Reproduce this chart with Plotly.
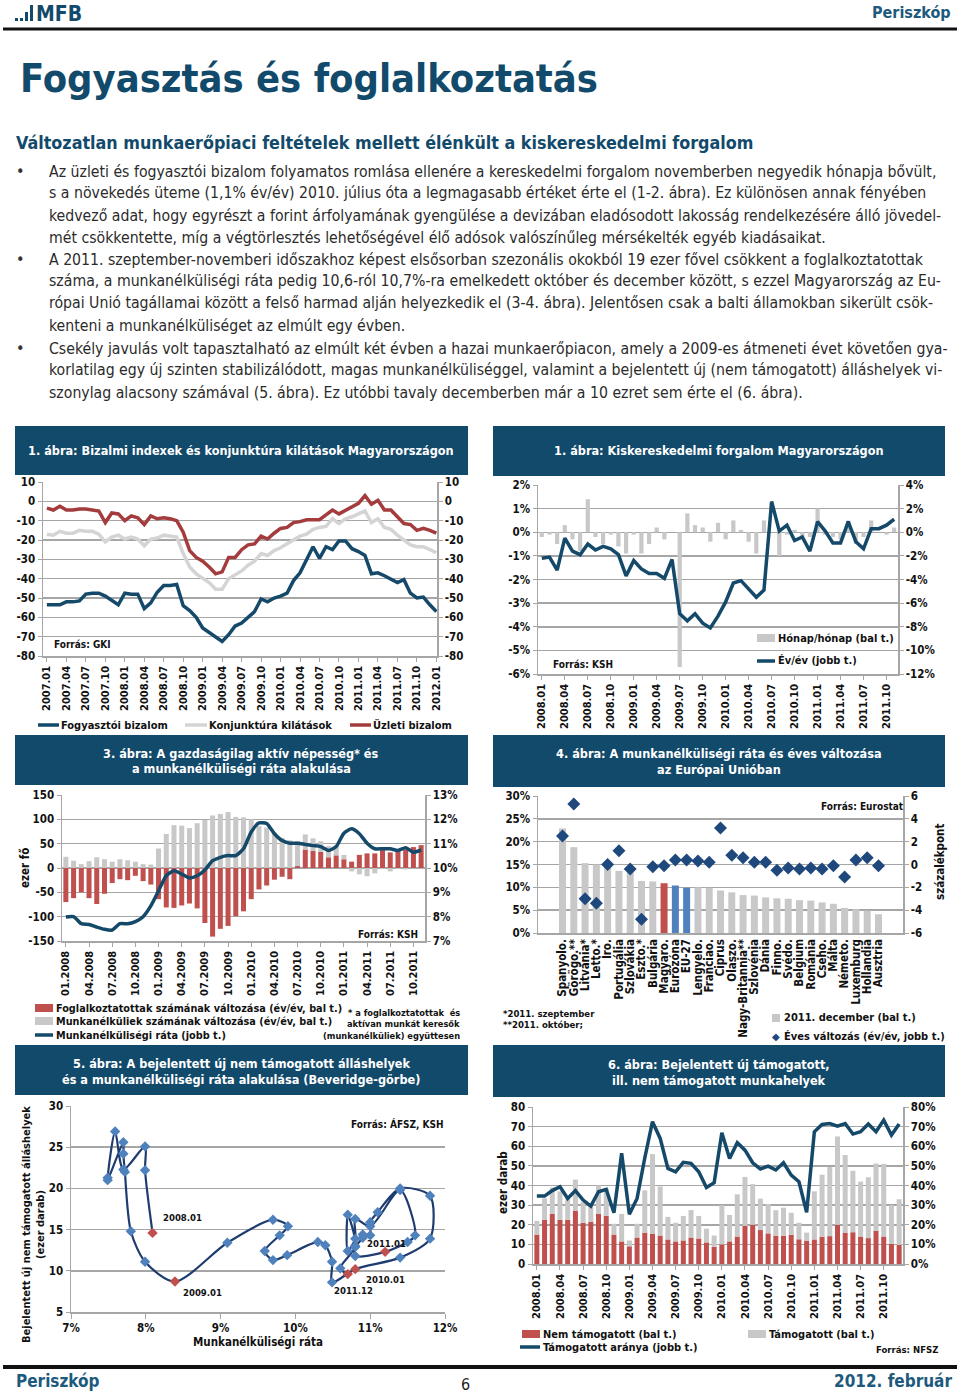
import plotly.graph_objects as go

W, H = 960, 1394
def px(x): return x / W
def py(y): return 1 - y / H

FONT = "DejaVu Sans Condensed, Noto Sans, DejaVu Sans"
BODYFONT = "DejaVu Sans Condensed, Noto Sans, DejaVu Sans"
NAVY = "#124a6b"
LINEBLUE = "#15496a"
REDLINE = "#a43b3c"
REDBAR = "#c0504d"
GRAYBAR = "#c8c8c8"
GRAYLINE = "#d4d4d4"
GRID = "#a6a6a6"
TXT = "#111111"
EUBLUE = "#4f81bd"
DIAMOND = "#1f497d"

# ---------------- DATA ----------------
# Chart 1: confidence indices, 2007.01 - 2012.01
months1 = [f"{y}.{m:02d}" for y in range(2007, 2013) for m in range(1, 13)][:61]
fogyasztoi = [-53.5, -53.5, -53.5, -52, -52, -51.5, -48, -47.5, -47.5, -49, -51, -53.5,
              -47.5, -48, -48, -55.5, -52.5, -47, -43.5, -43.5, -43, -54, -56.5, -60,
              -65.5, -68, -70, -72.5, -69, -64.5, -63, -60, -57, -50.5, -52, -50,
              -49, -47.5, -41, -37, -30, -23.5, -29.5, -23.5, -25, -20.5, -20.5, -24.5,
              -26, -28, -37.5, -37, -38.5, -40.5, -42, -40.5, -47.5, -50, -49.5, -53.5, -57]
konjunktura = [-17, -17.5, -15.5, -16.5, -16.5, -15, -15.5, -15.5, -17, -21, -18.5, -17.5,
               -19.5, -18.5, -19.5, -23, -19.5, -19, -17.5, -18, -18.5, -27, -34, -37.5,
               -40, -42, -45.5, -45.5, -40, -38, -36, -33, -31, -27, -28, -25.5,
               -24, -22, -20, -18, -17, -14.5, -13.5, -13, -9, -11.5, -9, -8,
               -6.5, -5, -11, -9, -13.5, -14.5, -17.5, -20, -22.5, -23.5, -23.5, -25, -26.5]
uzleti = [-3.5, -4.5, -2.5, -4.5, -4.5, -4, -4, -4.5, -5, -11, -6, -6.5,
          -10, -7.5, -8.5, -12, -7.5, -9, -8.5, -9, -10, -16, -25.5, -29,
          -31, -34, -37.5, -36.5, -29, -29, -25, -22.5, -22, -18, -19.5, -16.5,
          -14, -13.5, -11, -10.5, -9.5, -9.5, -9.5, -7, -4.5, -6.5, -4.5, -3,
          -1, 3, -1.5, 0.5, -4.5, -4.5, -8, -11.5, -12, -15, -14, -15, -16.5]

# Chart 2: retail sales, 2008.01 - 2011.11
months2 = [f"{y}.{m:02d}" for y in range(2008, 2012) for m in range(1, 13)][:47]
honap_honap = [-0.2, -0.1, -0.5, 0.3, -0.3, -0.8, 1.4, -0.2, -0.5, -0.1, -0.6, -0.9,
               -0.1, -0.9, -0.5, 0.2, -0.3, 0.0, -5.7, 0.8, 0.3, 0.2, -0.4, 0.4,
               -0.3, 0.5, 0.1, -0.4, -0.9, 0.5, 0.0, -1.0, -0.1, 0.1, -0.2, -0.2,
               1.0, -0.1, -0.2, -0.3, 0.5, -0.5, -0.2, 0.5, 0.0, -0.1, 0.2]
ev_ev = [-2.2, -2.1, -3.2, -0.5, -1.6, -1.9, -1.0, -1.5, -1.2, -1.4, -1.9, -3.7,
         -2.4, -3.1, -3.5, -3.5, -3.9, -2.3, -6.9, -7.5, -6.9, -7.7, -8.1, -7.1,
         -5.9, -4.3, -4.1, -4.8, -5.5, -4.9, 2.6, 0.1, 0.6, -0.7, -0.4, -1.6,
         0.9, 0.1, -0.9, -0.9, 0.9, -0.8, -1.4, 0.3, 0.3, 0.6, 1.1]

# Chart 3: active population, 2008.01 - 2011.11
months3 = [f"{m:02d}.{y}" for y in range(2008, 2012) for m in range(1, 13)][:47]
foglalkoztatott_valt = [-70, -62, -50, -62, -74, -53, -31, -23, -25, -16, -27, -34,
                        -64, -81, -82, -77, -73, -83, -113, -141, -125, -119, -99, -89,
                        -64, -44, -36, -24, -18, -23, 4, 38, 35, 33, 22, 26,
                        18, 13, 27, 30, 30, 37, 32, 36, 38, 43, 47]
munkanelkuli_valt = [23, 15, 8, 14, 22, 18, 13, 18, 16, 13, 8, 7,
                     40, 70, 88, 87, 82, 92, 99, 108, 111, 115, 105, 104,
                     100, 86, 83, 73, 62, 57, 51, 31, 26, 22, 23, 19,
                     9, -7, -13, -17, -11, -2, -7, -2, -3, -1, -1]
munkanelkulisegi_rata = [7.99, 8.0, 7.71, 7.68, 7.57, 7.48, 7.45, 7.71, 7.71, 7.8, 8.0, 8.44,
                         9.06, 9.68, 9.89, 9.75, 9.59, 9.68, 9.92, 10.3, 10.44, 10.51, 10.51, 10.79,
                         11.48, 11.85, 11.83, 11.41, 11.13, 11.02, 11.02, 10.97, 10.92, 10.88, 10.72, 10.88,
                         11.43, 11.61, 11.41, 11.02, 10.79, 10.79, 10.79, 10.72, 10.83, 10.65, 10.74]

# Chart 4: EU unemployment
orszagok = ["Spanyolo.", "Görögo.**", "Litvánia*", "Letto.*", "Íro.", "Portugália", "Szlovákia",
            "Észto.*", "Bulgária", "Magyaro.", "Eurózóna", "EU-27", "Lengyelo.", "Franciao.",
            "Ciprus", "Olaszo.", "Nagy-Britannia**", "Szlovénia", "Dánia", "Finno.", "Svédo.",
            "Belgium", "Románia", "Cseho.", "Málta", "Németo.", "Luxemburg", "Hollandia", "Ausztria"]
rata_2011dec = [22.9, 18.8, 15.3, 15.0, 14.5, 13.6, 13.3, 11.4, 11.3, 10.9, 10.4, 9.9, 10.0, 9.9,
                9.3, 8.9, 8.3, 8.2, 7.8, 7.6, 7.5, 7.2, 7.1, 6.7, 6.4, 5.5, 5.2, 4.9, 4.1]
eves_valtozas = [2.5, 5.3, -3.0, -3.4, 0.0, 1.2, -0.4, -4.8, -0.2, -0.1, 0.4, 0.4, 0.3, 0.2,
                 3.2, 0.8, 0.6, 0.2, 0.2, -0.5, -0.3, -0.4, -0.3, -0.4, -0.1, -1.1, 0.4, 0.6, -0.1]

# Chart 5: Beveridge curve, 2008.01 - 2011.12
beve_honap = [f"{y}.{m:02d}" for y in range(2008, 2012) for m in range(1, 13)]
beve_rata = [8.09, 7.99, 7.99, 7.70, 7.59, 7.49, 7.49, 7.70, 7.70, 7.72, 7.80, 7.99,
             8.39, 9.09, 9.70, 9.90, 9.79, 9.59, 9.70, 9.89, 10.30, 10.40, 10.49, 10.49,
             10.80, 11.40, 11.80, 11.80, 11.40, 11.10, 11.00, 11.00, 10.90, 10.90, 10.80, 10.80,
             11.20, 11.50, 11.60, 11.40, 11.00, 10.80, 10.80, 10.70, 10.70, 10.80, 10.60, 10.70]
beve_allas = [14.6, 22.2, 25.1, 22.3, 26.9, 21.3, 21.0, 25.6, 24.2, 22.0, 14.8, 11.1,
              8.7, 13.4, 16.2, 15.4, 14.3, 12.4, 11.3, 11.9, 13.5, 13.1, 11.1, 8.6,
              10.2, 11.6, 13.9, 19.1, 20.0, 17.1, 15.9, 14.3, 14.4, 14.0, 12.9, 11.8,
              12.3, 13.5, 14.3, 19.8, 15.4, 16.3, 13.9, 12.4, 16.8, 13.0, 10.3, 9.6]
beve_kiemelt = ["2008.01", "2009.01", "2010.01", "2011.01", "2011.12"]

# Chart 6: new jobs, 2008.01 - 2011.12
months6 = [f"{y}.{m:02d}" for y in range(2008, 2012) for m in range(1, 13)]
nem_tamogatott = [15, 22.5, 25.5, 22.5, 22.5, 27, 21, 21.5, 25.5, 24.5, 15, 11.5,
                  9, 13.5, 16, 15.5, 14.5, 12.5, 11.5, 12, 13.5, 13, 11, 8.8,
                  10, 11.5, 14, 19.4, 20, 17.3, 15.6, 14.4, 14.4, 14.8, 12.6, 11.9,
                  12.5, 13.9, 14.2, 20, 16, 16.2, 14, 13.2, 17, 14, 10.2, 9.7]
tamogatott = [7, 11, 13.5, 14.5, 10.5, 16, 10.5, 9.5, 14.5, 14, 5.5, 14,
              3, 7, 21.5, 40.5, 25, 11.5, 9.5, 12.5, 14, 11.5, 7, 5.7,
              20, 13.5, 21.5, 25, 20.7, 16, 15, 13, 14.3, 11.3, 8.4, 4.1,
              24.5, 31.6, 35.3, 45, 39.5, 31.3, 28, 31, 34.2, 37, 19.8, 23.3]
tamogatott_arany = [34.6, 34.6, 37.4, 39.4, 33.4, 37.4, 32.6, 29.5, 36.8, 38, 26.1, 56.4,
                    25.3, 33.4, 54, 72.5, 64, 48.7, 47, 51.8, 51.3, 47, 39, 41.4,
                    66.9, 53.8, 61.8, 58, 51.6, 48.4, 49.9, 47.9, 51.6, 45.3, 41.9, 26.3,
                    67.4, 71.1, 71.6, 70.3, 71.6, 66.2, 67.4, 71.3, 67.4, 73.3, 65.7, 71.3]

# ---------------- FIGURE ----------------
fig = go.Figure()

# chart 1
i1 = list(range(len(months1)))
fig.add_trace(go.Scatter(x=i1, y=konjunktura, mode="lines", line=dict(color=GRAYLINE, width=3.5), xaxis="x", yaxis="y"))
fig.add_trace(go.Scatter(x=i1, y=uzleti, mode="lines", line=dict(color=REDLINE, width=3.5), xaxis="x", yaxis="y"))
fig.add_trace(go.Scatter(x=i1, y=fogyasztoi, mode="lines", line=dict(color=LINEBLUE, width=3.5), xaxis="x", yaxis="y"))
fig.add_trace(go.Scatter(x=[i1[0]], y=[fogyasztoi[0]], mode="markers", marker=dict(opacity=0), xaxis="x", yaxis="y2", hoverinfo="skip"))

# chart 2
i2 = list(range(len(months2)))
fig.add_trace(go.Bar(x=i2, y=honap_honap, marker=dict(color=GRAYBAR, line=dict(width=0)), width=0.55, xaxis="x2", yaxis="y3"))
fig.add_trace(go.Scatter(x=i2, y=ev_ev, mode="lines", line=dict(color=LINEBLUE, width=3.5), xaxis="x2", yaxis="y4"))

# chart 3
i3 = list(range(len(months3)))
fig.add_trace(go.Bar(x=i3, y=foglalkoztatott_valt, marker=dict(color=REDBAR, line=dict(width=0)), width=0.65, xaxis="x3", yaxis="y5"))
fig.add_trace(go.Bar(x=i3, y=munkanelkuli_valt, marker=dict(color=GRAYBAR, line=dict(width=0)), width=0.65, xaxis="x3", yaxis="y5"))
fig.add_trace(go.Scatter(x=i3, y=munkanelkulisegi_rata, mode="lines", line=dict(color=LINEBLUE, width=3.5, shape="spline", smoothing=0.6), xaxis="x3", yaxis="y6"))

# chart 4
bar_colors4 = [REDBAR if c == "Magyaro." else (EUBLUE if c in ("Eurózóna", "EU-27") else GRAYBAR) for c in orszagok]
fig.add_trace(go.Bar(x=orszagok, y=rata_2011dec, marker=dict(color=bar_colors4, line=dict(width=0)), width=0.62, xaxis="x4", yaxis="y7"))
fig.add_trace(go.Scatter(x=orszagok, y=eves_valtozas, mode="markers", marker=dict(symbol="diamond", size=10, color=DIAMOND), xaxis="x4", yaxis="y8"))

# chart 5
mcol = [REDBAR if m in beve_kiemelt else EUBLUE for m in beve_honap]
fig.add_trace(go.Scatter(x=beve_rata, y=beve_allas, mode="lines+markers",
                         line=dict(color="#1f3c70", width=2.2, shape="spline", smoothing=0.8),
                         marker=dict(symbol="diamond", size=8, color=mcol),
                         xaxis="x5", yaxis="y9"))

# chart 6
i6 = list(range(len(months6)))
fig.add_trace(go.Bar(x=i6, y=nem_tamogatott, marker=dict(color=REDBAR, line=dict(width=0)), width=0.65, xaxis="x6", yaxis="y10"))
fig.add_trace(go.Bar(x=i6, y=tamogatott, marker=dict(color=GRAYBAR, line=dict(width=0)), width=0.65, xaxis="x6", yaxis="y10"))
fig.add_trace(go.Scatter(x=i6, y=tamogatott_arany, mode="lines", line=dict(color=LINEBLUE, width=3.5), xaxis="x6", yaxis="y11"))

# ---------------- AXES ----------------
TF = dict(family=FONT, size=11.5, color=TXT, weight="bold")
TFX = dict(family=FONT, size=11, color=TXT, weight="bold")

def tick_list(lo, hi, step, suffix=""):
    n = int(round((hi - lo) / step))
    vals = [lo + k * step for k in range(n + 1)]
    return vals, [f"{v:g}{suffix}" for v in vals]

def xcat(dom, rng, anchor, tv, tt, angle=-90, font=TFX):
    return dict(domain=[px(dom[0]), px(dom[1])], range=rng, anchor=anchor, tickmode="array",
                tickvals=tv, ticktext=tt, tickangle=angle, tickfont=font, showgrid=False,
                zeroline=False, showline=True, linecolor=GRID, linewidth=1.5, ticks="outside",
                ticklen=4, tickcolor=GRID, automargin=False, fixedrange=True)

def yax(dom, rng, step, anchor, suffix="", grid=True, side="left", overlay=None, font=TF):
    tv, tt = tick_list(rng[0], rng[1], step, suffix)
    d = dict(range=rng, tickmode="array", tickvals=tv, ticktext=tt, anchor=anchor, side=side,
             tickfont=font, showgrid=grid, gridcolor=GRID, gridwidth=1.5, zeroline=False,
             showline=True, linecolor=GRID, linewidth=1.5, ticks="outside", ticklen=4,
             tickcolor=GRID, automargin=False, fixedrange=True)
    if overlay:
        d["overlaying"] = overlay
    else:
        d["domain"] = [py(dom[0]), py(dom[1])]
    return d

x5v, x5t = tick_list(7, 12, 1, "%")
layout_axes = dict(
    xaxis=xcat((43, 437), [-0.6, 60.1], "y", i1[::3], months1[::3]),
    yaxis=yax((656, 482), [-80, 10], 10, "x"),
    yaxis2=yax(None, [-80, 10], 10, "x", grid=False, side="right", overlay="y"),
    xaxis2=xcat((538, 898), [-0.5, 46.5], "y3", i2[::3], months2[::3]),
    yaxis3=yax((674, 485), [-6, 2], 1, "x2", suffix="%"),
    yaxis4=yax(None, [-12, 4], 2, "x2", suffix="%", grid=False, side="right", overlay="y3"),
    xaxis3=xcat((62, 425), [-0.5, 46.5], "y5", i3[::3], months3[::3]),
    yaxis5=yax((941, 795), [-150, 150], 50, "x3"),
    yaxis6=yax(None, [7, 13], 1, "x3", suffix="%", grid=False, side="right", overlay="y5"),
    xaxis4=dict(domain=[px(538), px(903)], anchor="y7", type="category", tickangle=-90,
                tickmode="array", tickvals=orszagok, ticktext=orszagok,
                tickfont=dict(family=FONT, size=11.5, color=TXT, weight="bold"), showgrid=False,
                showline=True, linecolor=GRID, linewidth=1.5, ticks="", automargin=False, fixedrange=True),
    yaxis7=yax((933, 796), [0, 30], 5, "x4", suffix="%"),
    yaxis8=yax(None, [-6, 6], 2, "x4", grid=False, side="right", overlay="y7"),
    xaxis5=dict(domain=[px(71), px(445)], range=[7, 12], tickmode="array", tickvals=x5v, ticktext=x5t,
                anchor="y9", tickfont=TF, showgrid=False, zeroline=False, showline=True, linecolor=GRID,
                linewidth=1.5, ticks="outside", ticklen=5, tickcolor=GRID, automargin=False, fixedrange=True),
    yaxis9=yax((1312, 1106), [5, 30], 5, "x5"),
    xaxis6=xcat((533, 903), [-0.5, 47.5], "y10", i6[::3], months6[::3]),
    yaxis10=yax((1264, 1107), [0, 80], 10, "x6"),
    yaxis11=yax(None, [0, 80], 10, "x6", suffix="%", grid=False, side="right", overlay="y10"),
)

# ---------------- SHAPES & TEXT ----------------
shapes, ann = [], []

def rect(x0, y0, x1, y1, color):
    shapes.append(dict(type="rect", xref="paper", yref="paper", x0=px(x0), x1=px(x1),
                       y0=py(y1), y1=py(y0), fillcolor=color, line=dict(width=0), layer="below"))

def seg(x0, y0, x1, y1, color, w):
    shapes.append(dict(type="line", xref="paper", yref="paper", x0=px(x0), x1=px(x1),
                       y0=py(y0), y1=py(y1), line=dict(color=color, width=w)))

def txt(x, y, s, size=11, color=TXT, bold=True, xa="left", ya="middle", angle=0, family=FONT):
    ann.append(dict(x=px(x), y=py(y), xref="paper", yref="paper", text=(f"<b>{s}</b>" if bold else s),
                    showarrow=False, xanchor=xa, yanchor=ya, textangle=angle, borderpad=0,
                    font=dict(family=family, size=size, color=color)))

# header
seg(3, 29, 957, 29, "#111111", 3)
rect(15, 18, 18, 21, NAVY)
rect(20, 18, 23, 21, NAVY)
rect(25, 12, 28, 21, NAVY)
rect(30, 5, 33, 21, NAVY)
txt(35, 14, "MFB", size=21, color=NAVY)
txt(952, 12, "Periszkóp", size=16, color="#1d5a7d", xa="right")
txt(19, 78, "Fogyasztás és foglalkoztatás", size=39.5, color=NAVY)
txt(15, 143, "Változatlan munkaerőpiaci feltételek mellett élénkült a kiskereskedelmi forgalom", size=17.8, color=NAVY)

body = [
    (True, "Az üzleti és fogyasztói bizalom folyamatos romlása ellenére a kereskedelmi forgalom novemberben negyedik hónapja bővült,"),
    (False, "s a növekedés üteme (1,1% év/év) 2010. július óta a legmagasabb értéket érte el (1-2. ábra). Ez különösen annak fényében"),
    (False, "kedvező adat, hogy egyrészt a forint árfolyamának gyengülése a devizában eladósodott lakosság rendelkezésére álló jövedel-"),
    (False, "mét csökkentette, míg a végtörlesztés lehetőségével élő adósok valószínűleg mérsékelték egyéb kiadásaikat."),
    (True, "A 2011. szeptember-novemberi időszakhoz képest elsősorban szezonális okokból 19 ezer fővel csökkent a foglalkoztatottak"),
    (False, "száma, a munkanélküliségi ráta pedig 10,6-ról 10,7%-ra emelkedett október és december között, s ezzel Magyarország az Eu-"),
    (False, "rópai Unió tagállamai között a felső harmad alján helyezkedik el (3-4. ábra). Jelentősen csak a balti államokban sikerült csök-"),
    (False, "kenteni a munkanélküliséget az elmúlt egy évben."),
    (True, "Csekély javulás volt tapasztalható az elmúlt két évben a hazai munkaerőpiacon, amely a 2009-es átmeneti évet követően gya-"),
    (False, "korlatilag egy új szinten stabilizálódott, magas munkanélküliséggel, valamint a bejelentett új (nem támogatott) álláshelyek vi-"),
    (False, "szonylag alacsony számával (5. ábra). Ez utóbbi tavaly decemberben már a 10 ezret sem érte el (6. ábra)."),
]
body_y = [171, 193, 215, 237, 259, 281, 303, 325, 348, 370, 392]
for (bullet, line), yy in zip(body, body_y):
    if bullet:
        txt(20, yy, "•", size=16, color="#333333", bold=False, xa="center", family=BODYFONT)
    txt(48, yy, line, size=15.7, color="#2b2b2b", bold=False, family=BODYFONT)

# banners
for (x0, y0, x1, y1) in [(15, 426, 468, 475), (493, 426, 945, 476), (15, 735, 468, 785),
                         (493, 735, 945, 787), (15, 1045, 468, 1095), (493, 1045, 945, 1097)]:
    rect(x0, y0, x1, y1, NAVY)
BT = 12.6
txt(241, 451, "1. ábra: Bizalmi indexek és konjunktúra kilátások Magyarországon", size=BT, color="white", xa="center")
txt(719, 451, "1. ábra: Kiskereskedelmi forgalom Magyarországon", size=BT, color="white", xa="center")
txt(241, 753, "3. ábra: A gazdaságilag aktív népesség* és", size=BT, color="white", xa="center")
txt(241, 768, "a munkanélküliségi ráta alakulása", size=BT, color="white", xa="center")
txt(719, 753, "4. ábra: A munkanélküliségi ráta és éves változása", size=BT, color="white", xa="center")
txt(719, 769, "az Európai Unióban", size=BT, color="white", xa="center")
txt(241, 1063, "5. ábra: A bejelentett új nem támogatott álláshelyek", size=BT, color="white", xa="center")
txt(241, 1079, "és a munkanélküliségi ráta alakulása (Beveridge-görbe)", size=BT, color="white", xa="center")
txt(719, 1064, "6. ábra: Bejelentett új támogatott,", size=BT, color="white", xa="center")
txt(719, 1080, "ill. nem támogatott munkahelyek", size=BT, color="white", xa="center")

LT = 11
# chart 1 legend/notes
txt(53, 645, "Forrás: GKI", size=10)
seg(38, 725, 59, 725, LINEBLUE, 3.5); txt(60, 725, "Fogyasztói bizalom", size=LT)
seg(185, 725, 207, 725, GRAYLINE, 3.5); txt(208, 725, "Konjunktúra kilátások", size=LT)
seg(350, 725, 371, 725, REDLINE, 3.5); txt(372, 725, "Üzleti bizalom", size=LT)

# chart 2 legend/notes
txt(552, 664, "Forrás: KSH", size=10)
rect(757, 634, 775, 642, GRAYBAR); txt(777, 638, "Hónap/hónap (bal t.)", size=LT)
seg(757, 661, 775, 661, LINEBLUE, 3.5); txt(777, 661, "Év/év (jobb t.)", size=LT)

# chart 3 legend/notes
txt(25, 868, "ezer fő", size=11.5, angle=-90, xa="center")
txt(357, 934, "Forrás: KSH", size=10)
rect(35, 1004, 53, 1012, REDBAR); txt(55, 1008, "Foglalkoztatottak számának változása (év/év, bal t.)", size=10.8)
rect(35, 1017, 53, 1025, GRAYBAR); txt(55, 1021, "Munkanélküliek számának változása (év/év, bal t.)", size=10.8)
seg(35, 1035, 53, 1035, LINEBLUE, 3.5); txt(55, 1035, "Munkanélküliségi ráta (jobb t.)", size=10.8)
txt(461, 1012, "* a foglalkoztatottak  és", size=9.2, xa="right")
txt(461, 1023, "aktívan munkát keresők", size=9.2, xa="right")
txt(461, 1035, "(munkanélküliek) együttesen", size=9.2, xa="right")

# chart 4 legend/notes
txt(820, 806, "Forrás: Eurostat", size=10)
txt(940, 862, "százalékpont", size=11.5, angle=-90, xa="center")
txt(502, 1013, "*2011. szeptember", size=9.5)
txt(502, 1024, "**2011. október;", size=9.5)
rect(772, 1014, 780, 1022, GRAYBAR); txt(783, 1018, "2011. december (bal t.)", size=LT)
txt(776, 1036, "◆", size=10, color=DIAMOND, bold=False, xa="center", family="DejaVu Sans")
txt(783, 1036, "Éves változás (év/év, jobb t.)", size=LT)

# chart 5 labels
txt(350, 1124, "Forrás: ÁFSZ, KSH", size=10)
txt(162, 1217, "2008.01", size=9.5)
txt(182, 1292, "2009.01", size=9.5)
txt(366, 1243, "2011.01", size=9.5)
txt(365, 1279, "2010.01", size=9.5)
txt(333, 1290, "2011.12", size=9.5)
txt(26, 1225, "Bejelentett új nem támogatott álláshelyek", size=11, angle=-90, xa="center")
txt(40, 1225, "(ezer darab)", size=11, angle=-90, xa="center")
txt(258, 1342, "Munkanélküliségi ráta", size=11.5, xa="center")

# chart 6 legend/notes
txt(503, 1183, "ezer darab", size=11.5, angle=-90, xa="center")
rect(522, 1330, 540, 1338, REDBAR); txt(542, 1334, "Nem támogatott (bal t.)", size=LT)
rect(748, 1330, 766, 1338, GRAYBAR); txt(768, 1334, "Támogatott (bal t.)", size=LT)
seg(520, 1347, 540, 1347, LINEBLUE, 3.5); txt(542, 1347, "Támogatott aránya (jobb t.)", size=LT)
txt(939, 1349, "Forrás: NFSZ", size=9.5, xa="right")

# footer
seg(3, 1367, 957, 1367, "#111111", 4)
txt(15, 1381, "Periszkóp", size=17, color="#1d5a7d")
txt(465, 1384, "6", size=16, color="#222222", bold=False, xa="center", family=BODYFONT)
txt(953, 1381, "2012. február", size=17, color="#1d5a7d", xa="right")

fig.update_layout(
    width=W, height=H, autosize=False,
    margin=dict(l=0, r=0, t=0, b=0, pad=0),
    paper_bgcolor="white", plot_bgcolor="white",
    showlegend=False, barmode="relative",
    font=dict(family=FONT, color=TXT),
    shapes=shapes, annotations=ann,
    **layout_axes,
)

fig.write_html("out.html", config={"displayModeBar": False, "staticPlot": True},
               post_script="document.body.style.margin='0px';document.body.style.padding='0px';document.body.style.overflow='hidden';")
